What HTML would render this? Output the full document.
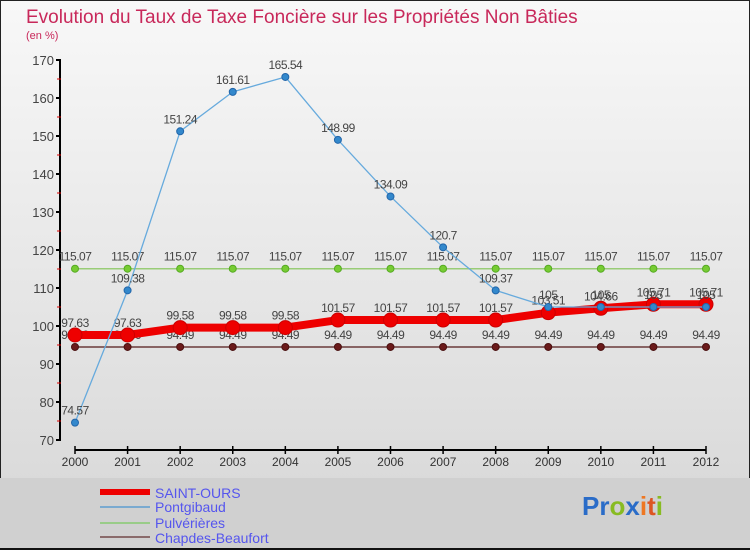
<!DOCTYPE html>
<html><head><meta charset="utf-8"><style>
body{margin:0;width:750px;height:550px;overflow:hidden;font-family:"Liberation Sans","DejaVu Sans",sans-serif}
svg{display:block}
</style></head><body>
<svg width="750" height="550" viewBox="0 0 750 550" xmlns="http://www.w3.org/2000/svg">
<defs>
<linearGradient id="bg" x1="0" y1="0" x2="0" y2="1"><stop offset="0" stop-color="#f8f8f8"/><stop offset="1" stop-color="#d6d6d6"/></linearGradient>
</defs>
<rect x="0" y="0" width="750" height="550" fill="url(#bg)" stroke="#222" stroke-width="2"/>
<rect x="0" y="478" width="750" height="72" fill="#d0d0d0"/>
<line x1="0" y1="549" x2="750" y2="549" stroke="#111" stroke-width="2"/>
<text x="26" y="23" font-size="19" fill="#c8285a">Evolution du Taux de Taxe Foncière sur les Propriétés Non Bâties</text>
<text x="26" y="39" font-size="11" fill="#c8285a">(en %)</text>
<g id="axes"></g>
<g id="series"></g>
<g id="legend">
<line x1="100" y1="492" x2="150" y2="492" stroke="#e00" stroke-width="6"/>
<text x="155" y="498" font-size="14" fill="#5555ee">SAINT-OURS</text>
<line x1="100" y1="507" x2="150" y2="507" stroke="#7aaad0" stroke-width="2"/>
<text x="155" y="512" font-size="14" fill="#5555ee">Pontgibaud</text>
<line x1="100" y1="523" x2="150" y2="523" stroke="#99cc88" stroke-width="2"/>
<text x="155" y="528" font-size="14" fill="#5555ee">Pulvérières</text>
<line x1="100" y1="537" x2="150" y2="537" stroke="#8a6a6a" stroke-width="2"/>
<text x="155" y="543" font-size="14" fill="#5555ee">Chapdes-Beaufort</text>
</g>
<g font-size="26" font-weight="bold">
<text x="582" y="515"><tspan fill="#2a6cc8">Pr</tspan><tspan fill="#88bb22">o</tspan><tspan fill="#2a6cc8">x</tspan><tspan fill="#ee7722">i</tspan><tspan fill="#dd5522">t</tspan><tspan fill="#88bb22">i</tspan></text>
</g>
</svg>
<script>
const years=[2000,2001,2002,2003,2004,2005,2006,2007,2008,2009,2010,2011,2012];
const yTicks=[70,80,90,100,110,120,130,140,150,160,170];
const saintOurs=[97.63,97.63,99.58,99.58,99.58,101.57,101.57,101.57,101.57,103.51,104.66,105.71,105.71];
const pontgibaud=[74.57,109.38,151.24,161.61,165.54,148.99,134.09,120.7,109.37,105,105,105,105];
const pulverieres=[115.07,115.07,115.07,115.07,115.07,115.07,115.07,115.07,115.07,115.07,115.07,115.07,115.07];
const chapdes=[94.49,94.49,94.49,94.49,94.49,94.49,94.49,94.49,94.49,94.49,94.49,94.49,94.49];
const NS='http://www.w3.org/2000/svg';
const x=i=>75+i*(706-75)/(years.length-1);
const y=v=>440-(v-70)*3.8;
function mk(tag,attrs,parent){const e=document.createElementNS(NS,tag);for(const k in attrs)e.setAttribute(k,attrs[k]);parent.appendChild(e);return e;}
const ax=document.getElementById('axes');
const ya=mk('line',{x1:60,y1:y(170),x2:60,y2:y(70),stroke:'#000','stroke-width':2},ax);


yTicks.forEach(t=>{
  mk('line',{x1:56,y1:y(t),x2:61,y2:y(t),stroke:'#000','stroke-width':2},ax);
  if(t<170)mk('line',{x1:57,y1:y(t+5),x2:61,y2:y(t+5),stroke:'#d00','stroke-width':1},ax);
  const l=mk('text',{x:54,y:y(t)+5,'text-anchor':'end','font-size':13,fill:'#444'},ax);
  l.textContent=t;
  
  
});
const xa=mk('line',{x1:x(0),y1:450,x2:x(12),y2:450,stroke:'#000','stroke-width':2},ax);


years.forEach((yr,i)=>{
  mk('line',{x1:x(i),y1:446,x2:x(i),y2:454,stroke:'#000','stroke-width':1.5},ax);
  const l=mk('text',{x:x(i),y:466,'text-anchor':'middle','font-size':12,fill:'#333'},ax);
  l.textContent=yr;
  
  
});
const sg=document.getElementById('series');
function series(vals,name,color,lw,r,dot,dotStroke){
  const g=mk('g',{},sg);
  
  
  const pl=mk('polyline',{points:vals.map((v,i)=>x(i)+','+y(v)).join(' '),fill:'none',stroke:color,'stroke-width':lw,'stroke-linejoin':'round'},g);
  
  
  vals.forEach((v,i)=>{
    const c=mk('circle',{cx:x(i),cy:y(v),r:r,fill:dot,stroke:dotStroke,'stroke-width':1},g);
    
    
    const t=mk('text',{x:x(i),y:y(v)-8,'text-anchor':'middle','font-size':12,fill:'#444','letter-spacing':'-0.5'},g);
    t.textContent=v;
    
    
  });
}
series(chapdes,'chapdes-beaufort','#6b3a3a',1.5,3.5,'#6b1a1a','#4a1010');
series(pulverieres,'pulverieres','#99cc77',1.5,3.5,'#77cc33','#55aa22');
series(saintOurs,'saint-ours','#ee0000',8,7,'#ee0000','#cc0000');
series(pontgibaud,'pontgibaud','#66aadd',1.3,3.5,'#3388cc','#2266aa');
</script>
</body></html>
